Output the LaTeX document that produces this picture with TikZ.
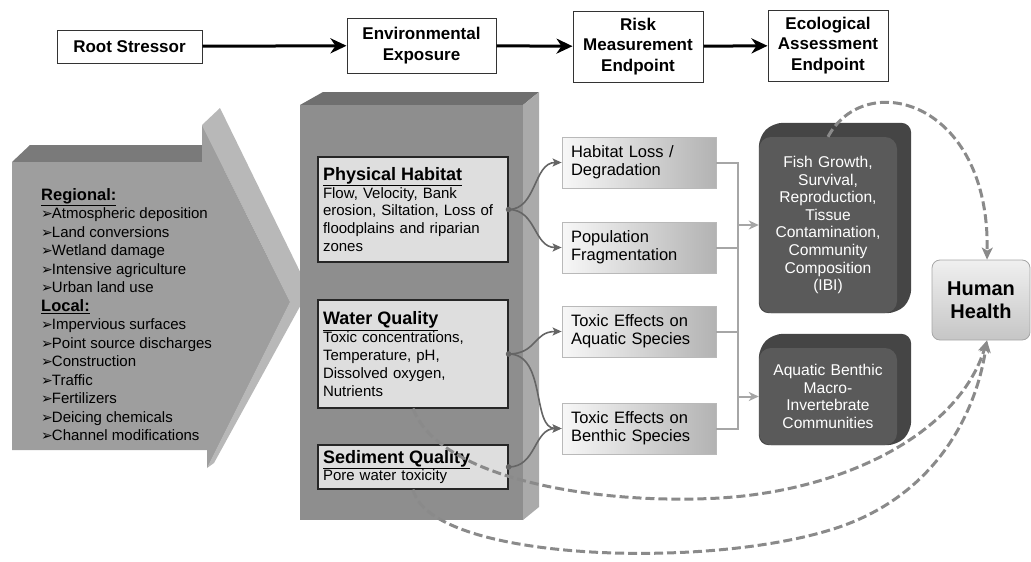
\documentclass[tikz,border=0pt]{standalone}
\usepackage{fontspec}
\setmainfont{Liberation Sans}
\newfontfamily\dejavu{DejaVu Sans}
\usepackage{tikz}
\usetikzlibrary{arrows.meta,positioning,backgrounds}
\definecolor{ArrowFront}{HTML}{9E9E9E}
\definecolor{ArrowTop}{HTML}{7A7A7A}
\definecolor{ArrowSide}{HTML}{B8B8B8}
\definecolor{BlockFront}{HTML}{8E8E8E}
\definecolor{BlockTop}{HTML}{6F6F6F}
\definecolor{BlockSide}{HTML}{AAAAAA}
\definecolor{InnerFill}{HTML}{DEDEDE}
\definecolor{EndDark}{HTML}{5A5A5A}
\definecolor{EndBack}{HTML}{454545}
\definecolor{LinkGray}{HTML}{656565}
\definecolor{BusGray}{HTML}{A6A6A6}
\definecolor{DashGray}{HTML}{8A8A8A}
\newcommand{\bul}{{\dejavu\fontsize{14}{12}\selectfont ➢}\kern-1pt}

\begin{document}
\begin{tikzpicture}[x=1pt,y=-1pt,
  topbox/.style={draw=black!80,line width=1pt,fill=white,align=center,inner sep=2pt,font=\bfseries\fontsize{17}{20.5}\selectfont},
  toparrow/.style={line width=3pt,-{Stealth[length=16pt,width=15pt,inset=5pt]}},
  inbox/.style={draw=black!85,line width=1.1pt,fill=InnerFill,text width=180pt,inner sep=5pt,align=left,font=\fontsize{15}{17.8}\selectfont},
  midbox/.style={draw=gray!55,line width=0.8pt,left color=gray!6,right color=gray!60,minimum width=154pt,minimum height=51pt,text width=136pt,inner xsep=9pt,align=left,font=\fontsize{16.5}{18.3}\selectfont},
  endbox/.style={fill=EndDark,rounded corners=12pt,text=white,align=center,text width=130pt,minimum width=138pt,font=\fontsize{15.6}{17.6}\selectfont},
  linkarrow/.style={LinkGray,line width=1.6pt,-{Stealth[length=9pt,width=8pt,inset=2pt]}},
  busline/.style={BusGray,line width=2pt},
  dashlink/.style={DashGray,line width=3pt,dash pattern=on 9pt off 4pt,-{Stealth[length=12pt,width=11pt,inset=3pt]}}]
  \useasboundingbox (0,0) rectangle (1031,562);

  \fill[ArrowTop] (12,162) -- (30,145) -- (202,145) -- (202,162) -- cycle;
  \fill[ArrowSide] (202,125) -- (220,108) -- (309,290) -- (214,463) -- (207,468) -- (290,302) -- cycle;
  \fill[ArrowFront] (12,162) -- (202,162) -- (202,125) -- (290,302) -- (207,468) -- (207,450) -- (12,450) -- cycle;

  \fill[BlockTop] (300,105) -- (323,92) -- (539,92) -- (523,105) -- cycle;
  \fill[BlockSide] (523,105) -- (539,92) -- (539,507) -- (523,520) -- cycle;
  \fill[BlockFront] (300,105) rectangle (523,520);

  \node[topbox,minimum width=145pt,minimum height=33pt] (rs) at (129.5,46.5) {Root Stressor};
  \node[topbox,minimum width=149pt,minimum height=55pt] (ee) at (421.5,45.5) {Environmental\\Exposure};
  \node[topbox,minimum width=130pt,minimum height=71pt] (rm) at (638,46.5) {Risk\\Measurement\\Endpoint};
  \node[topbox,minimum width=120pt,minimum height=71pt] (ea) at (828,45.5) {Ecological\\Assessment\\Endpoint};
  \foreach \a/\b in {rs/ee,ee/rm,rm/ea} \draw[toparrow] (\a) -- (\b);

  \node[anchor=north west,inner sep=0pt,align=left,font=\fontsize{15}{18.5}\selectfont] (src) at (41,188)
    {{\fontsize{16.5}{18.5}\selectfont\bfseries\underline{Regional:}}\\
     \bul Atmospheric deposition\\ \bul Land conversions\\ \bul Wetland damage\\
     \bul Intensive agriculture\\ \bul Urban land use\\
     {\fontsize{16.5}{18.5}\selectfont\bfseries\underline{Local:}}\\
     \bul Impervious surfaces\\ \bul Point source discharges\\ \bul Construction\\
     \bul Traffic\\ \bul Fertilizers\\ \bul Deicing chemicals\\ \bul Channel modifications};

  \node[inbox,minimum height=105pt] (ph) at (413,209.5)
    {{\fontsize{18}{20}\selectfont\bfseries\underline{Physical Habitat}}\\Flow, Velocity, Bank\\erosion, Siltation, Loss of\\floodplains and riparian\\zones};
  \node[inbox,minimum height=108pt] (wq) at (413,354)
    {{\fontsize{18}{20}\selectfont\bfseries\underline{Water Quality}}\\Toxic concentrations,\\Temperature, pH,\\Dissolved oxygen,\\Nutrients};
  \node[inbox,minimum height=40pt] (sq) at (413,467)
    {{\fontsize{18}{20}\selectfont\bfseries\underline{Sediment Quality}}\\Pore water toxicity};

  \node[midbox] (hl) at (639,162.5) {Habitat Loss /\\Degradation};
  \node[midbox] (pf) at (639,247.5) {Population\\Fragmentation};
  \node[midbox] (ta) at (639,331.5) {Toxic Effects on\\Aquatic Species};
  \node[midbox] (bt) at (639,428.5) {Toxic Effects on\\Benthic Species};

  \draw[linkarrow] (ph.east) .. controls +(28,0) and +(-28,0) .. (hl.west);
  \draw[linkarrow] (ph.east) .. controls +(28,0) and +(-28,0) .. (pf.west);
  \draw[linkarrow] (wq.east) .. controls +(28,0) and +(-28,0) .. (ta.west);
  \draw[linkarrow] (wq.east) .. controls +(38,0) and +(-30,0) .. (bt.west);
  \draw[linkarrow] (sq.east) .. controls +(28,0) and +(-28,0) .. (bt.west);
  \foreach \n in {ph,wq,sq} \fill[LinkGray] (\n.east) circle (2.8);

  \node[endbox,minimum height=176pt] (fish) at (828,225)
    {Fish Growth,\\Survival,\\Reproduction,\\Tissue\\Contamination,\\Community\\Composition\\(IBI)};
  \node[endbox,minimum height=97pt] (ab) at (828,396.5)
    {Aquatic Benthic\\Macro-\\Invertebrate\\Communities};
  \begin{scope}[on background layer]
    \foreach \n in {fish,ab}
      \fill[EndBack,rounded corners=10pt] (\n.south west) -- (\n.north west) -- ([shift={(14,-14)}]\n.north west)
        -- ([shift={(14,-14)}]\n.north east) -- ([shift={(14,-14)}]\n.south east) -- (\n.south east) -- cycle;
  \end{scope}

  \node[draw=gray!70,line width=0.8pt,rounded corners=8pt,top color=gray!12,bottom color=gray!45,
    minimum width=98pt,minimum height=80pt,align=center,font=\bfseries\fontsize{20}{23}\selectfont] (hh) at (981,300) {Human\\Health};

  \coordinate (jtop) at (738,162.5);
  \draw[busline] (hl.east) -- (jtop) |- (bt.east);
  \foreach \n in {pf,ta} \draw[busline] (\n.east) -- (\n.east -| jtop);
  \foreach \n in {fish,ab} \draw[busline,-{Stealth[length=10pt,width=9pt,inset=3pt]}] (\n.west -| jtop) -- (\n.west);

  \draw[dashlink] (fish.north) .. controls (865,68) and (990,100) .. ([xshift=6pt]hh.north);
  \draw[dashlink] (wq.south) .. controls (440,480) and (600,505) .. (720,498)
    .. controls (850,490) and (960,430) .. ([xshift=6pt]hh.south);
  \draw[dashlink] (sq.south) .. controls (430,560) and (700,570) .. (830,530)
    .. controls (930,500) and (975,420) .. ([xshift=6pt]hh.south);
\end{tikzpicture}
\end{document}
